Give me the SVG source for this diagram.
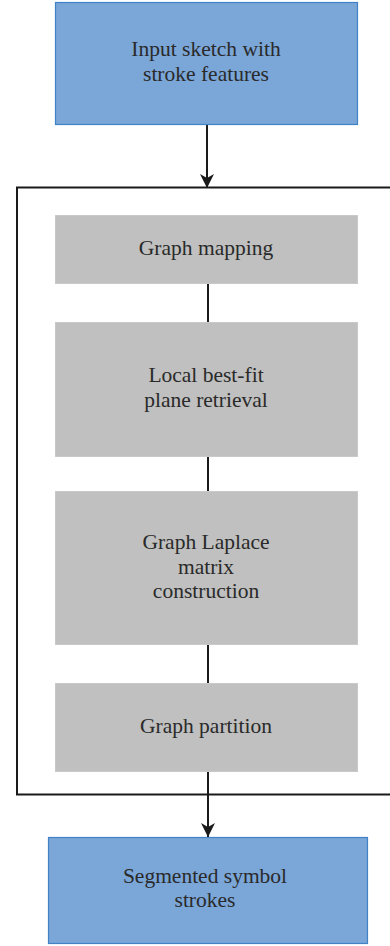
<svg xmlns="http://www.w3.org/2000/svg" width="390" height="946" viewBox="0 0 390 946">
<defs>
<style>
.blue{fill:#7aa6d8;stroke:#3f82c6;stroke-width:1.2}
.gray{fill:#bfc0bf;stroke:#c8c9c8;stroke-width:1}
.t{font-size:21.5px;fill:#2a2a2a;text-anchor:middle}
.ln{stroke:#1a1a1a;stroke-width:2;fill:none}
</style>
<marker id="ah" viewBox="0 0 14 14" refX="14" refY="7" markerWidth="14" markerHeight="14" markerUnits="userSpaceOnUse" orient="auto">
<path d="M0,0 L14,7 L0,14 L4,7 Z" fill="#1a1a1a"/>
</marker>
</defs>
<g id="container"><rect x="17" y="187.5" width="380" height="607" class="ln"/></g>
<g id="connectors">
<line x1="207" y1="125" x2="207" y2="188" class="ln" marker-end="url(#ah)"/>
<line x1="208" y1="284" x2="208" y2="322" class="ln"/>
<line x1="208" y1="457" x2="208" y2="491" class="ln"/>
<line x1="208" y1="645" x2="208" y2="683" class="ln"/>
<line x1="208" y1="772" x2="208" y2="837" class="ln" marker-end="url(#ah)"/>
</g>
<g font-family="Liberation Serif">
<g id="input"><rect x="55.5" y="2.5" width="302" height="122" class="blue"/>
<text class="t" x="206" y="56">Input sketch with</text><text class="t" x="206" y="81">stroke features</text></g>
<g id="mapping"><rect x="55.5" y="215.5" width="302" height="68" class="gray"/>
<text class="t" x="206" y="255">Graph mapping</text></g>
<g id="plane"><rect x="55.5" y="322.5" width="302" height="134" class="gray"/>
<text class="t" x="206" y="382">Local best-fit</text><text class="t" x="206" y="407">plane retrieval</text></g>
<g id="laplace"><rect x="55.5" y="491.5" width="302" height="153" class="gray"/>
<text class="t" x="206" y="549">Graph Laplace</text><text class="t" x="206" y="574">matrix</text><text class="t" x="206" y="598">construction</text></g>
<g id="partition"><rect x="55.5" y="683.5" width="302" height="88" class="gray"/>
<text class="t" x="206" y="733">Graph partition</text></g>
<g id="output"><rect x="48.5" y="837.5" width="319" height="106" class="blue"/>
<text class="t" x="205" y="883">Segmented symbol</text><text class="t" x="205" y="907">strokes</text></g>
</g>
</svg>
